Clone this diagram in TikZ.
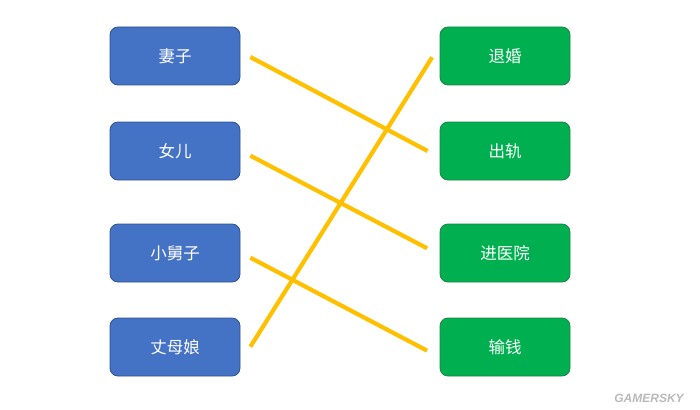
\documentclass[tikz,border=0pt]{standalone}
\usepackage{fontspec}
\newfontfamily\cjk{Noto Sans CJK SC}
\setsansfont{Liberation Sans}
\definecolor{boxblue}{RGB}{68, 114, 196}
\definecolor{edgeblue}{RGB}{47, 82, 143}
\definecolor{boxgreen}{RGB}{0, 176, 80}
\definecolor{edgegreen}{RGB}{30, 130, 70}
\definecolor{linkyellow}{RGB}{255, 192, 0}
\usetikzlibrary{positioning, calc}

\begin{document}
\begin{tikzpicture}[x=1pt, y=-1pt,
  person/.style={draw=edgeblue, fill=boxblue, rounded corners=8pt, minimum width=130pt, minimum height=58pt, text=white, font=\cjk\fontsize{16.5}{19}\selectfont, line width=0.8pt},
  event/.style={person, draw=edgegreen, fill=boxgreen},
  link/.style={linkyellow, line width=4.2pt}]
  \useasboundingbox (0, 0) rectangle (700, 409);

  % Left column
  \node[person] (wife) at (175, 56) {妻子};
  \node[person] (daughter) at (175, 151) {女儿};
  \node[person] (brother) at (175, 253) {小舅子};
  \node[person] (mother) at (175, 347) {丈母娘};

  % Right column
  \node[event] (divorce) at (505, 56) {退婚};
  \node[event] (affair) at (505, 151) {出轨};
  \node[event] (hospital) at (505, 253) {进医院};
  \node[event] (gamble) at (505, 347) {输钱};

  % Links
  \draw[link] ($(wife.east)+(10, 1)$) -- ($(affair.west)+(-12, 0)$);
  \draw[link] ($(daughter.east)+(10, 4.7)$) -- ($(hospital.west)+(-12.5, -4.7)$);
  \draw[link] ($(brother.east)+(10, 4.7)$) -- ($(gamble.west)+(-12.5, 3.7)$);
  \draw[link] ($(mother.east)+(10, -0.3)$) -- ($(divorce.west)+(-7.5, 1.3)$);

  % Watermark
  \node[font=\sffamily\bfseries\itshape\fontsize{12}{14}\selectfont, text=gray!55] (mark) at (649, 398) {GAMERSKY};
\end{tikzpicture}
\end{document}
